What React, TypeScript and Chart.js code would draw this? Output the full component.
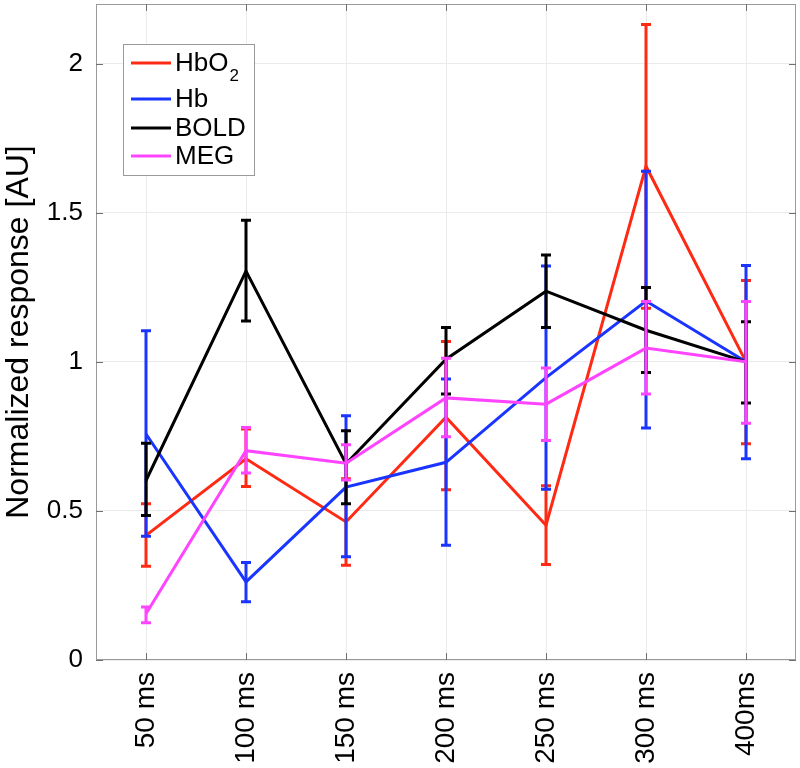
import React, { useEffect, useRef } from "react";
import { Chart, registerables } from "chart.js";

Chart.register(...registerables);

const categories = ["50 ms", "100 ms", "150 ms", "200 ms", "250 ms", "300 ms", "400ms"];
const yTicks = [0, 0.5, 1, 1.5, 2];

const hbo2Mean = [0.418, 0.675, 0.463, 0.814, 0.452, 1.656, 1.0];
const hbo2Low = [0.314, 0.582, 0.318, 0.571, 0.32, 1.18, 0.725];
const hbo2High = [0.524, 0.775, 0.608, 1.068, 0.584, 2.131, 1.273];

const hbMean = [0.758, 0.262, 0.58, 0.663, 0.947, 1.204, 1.0];
const hbLow = [0.415, 0.195, 0.346, 0.385, 0.573, 0.778, 0.675];
const hbHigh = [1.104, 0.327, 0.819, 0.942, 1.321, 1.639, 1.323];

const boldMean = [0.602, 1.304, 0.658, 1.009, 1.237, 1.106, 1.0];
const boldLow = [0.485, 1.137, 0.524, 0.892, 1.115, 0.964, 0.862];
const boldHigh = [0.727, 1.475, 0.769, 1.115, 1.358, 1.249, 1.134];

const megMean = [0.155, 0.702, 0.66, 0.879, 0.858, 1.046, 1.0];
const megLow = [0.125, 0.627, 0.604, 0.749, 0.736, 0.892, 0.794];
const megHigh = [0.178, 0.78, 0.722, 1.012, 0.979, 1.202, 1.202];

const seriesLabels = ["HbO₂", "Hb", "BOLD", "MEG"];
const seriesColors = ["#ff2a14", "#1a35ff", "#000000", "#ff44ff"];

const FONT = '"Liberation Sans", Arial, Helvetica, sans-serif';

const errorBarPlugin = {
  id: "errorBars",
  afterDatasetDraw(chart: any, args: any) {
    const ds: any = chart.data.datasets[args.index];
    if (!ds.errLow) return;
    const meta = chart.getDatasetMeta(args.index);
    const ys = chart.scales.y;
    const ctx = chart.ctx;
    ctx.save();
    ctx.strokeStyle = ds.borderColor;
    ctx.lineWidth = 3;
    ctx.lineCap = "butt";
    meta.data.forEach((pt: any, i: number) => {
      const x = pt.x;
      const yl = ys.getPixelForValue(ds.errLow[i]);
      const yh = ys.getPixelForValue(ds.errHigh[i]);
      ctx.beginPath();
      ctx.moveTo(x, yl);
      ctx.lineTo(x, yh);
      ctx.moveTo(x - 5, yl);
      ctx.lineTo(x + 5, yl);
      ctx.moveTo(x - 5, yh);
      ctx.lineTo(x + 5, yh);
      ctx.stroke();
    });
    ctx.restore();
  },
};

const frameAndLegendPlugin = {
  id: "frameLegend",
  afterDraw(chart: any) {
    const ctx = chart.ctx;
    const a = chart.chartArea;
    const xs = chart.scales.x;
    const ys = chart.scales.y;
    ctx.save();
    ctx.strokeStyle = "#9a9a9a";
    ctx.lineWidth = 1;
    ctx.strokeRect(a.left + 0.5, a.top + 0.5, a.right - a.left - 1, a.bottom - a.top - 1);
    ctx.strokeStyle = "#707070";
    ctx.beginPath();
    xs.ticks.forEach((_t: any, i: number) => {
      const x = Math.round(xs.getPixelForTick(i)) + 0.5;
      ctx.moveTo(x, a.bottom);
      ctx.lineTo(x, a.bottom - 7);
      ctx.moveTo(x, a.top);
      ctx.lineTo(x, a.top + 7);
    });
    ys.ticks.forEach((_t: any, i: number) => {
      const y = Math.round(ys.getPixelForTick(i)) + 0.5;
      ctx.moveTo(a.left, y);
      ctx.lineTo(a.left + 7, y);
      ctx.moveTo(a.right, y);
      ctx.lineTo(a.right - 7, y);
    });
    ctx.stroke();

    // legend
    const bx = a.left + 27;
    const by = a.top + 40;
    const bw = 131;
    const bh = 131;
    ctx.fillStyle = "#ffffff";
    ctx.fillRect(bx, by, bw, bh);
    ctx.strokeStyle = "#9a9a9a";
    ctx.lineWidth = 1;
    ctx.strokeRect(bx + 0.5, by + 0.5, bw, bh);
    const rows = [19, 55, 84, 112];
    ctx.textBaseline = "middle";
    ctx.textAlign = "left";
    chart.data.datasets.forEach((ds: any, i: number) => {
      const y = by + rows[i];
      ctx.strokeStyle = ds.borderColor;
      ctx.lineWidth = 3;
      ctx.beginPath();
      ctx.moveTo(bx + 8, y);
      ctx.lineTo(bx + 48, y);
      ctx.stroke();
      ctx.fillStyle = "#000";
      ctx.font = `26px ${FONT}`;
      const label: string = ds.label;
      if (label.endsWith("₂")) {
        const base = label.slice(0, -1);
        ctx.fillText(base, bx + 52, y + 1);
        const w = ctx.measureText(base).width;
        ctx.font = `17px ${FONT}`;
        ctx.fillText("2", bx + 52 + w + 1, y + 13);
      } else {
        ctx.fillText(label, bx + 52, y + 1);
      }
    });
    ctx.restore();
  },
};

export default function App() {
  const ref = useRef<HTMLCanvasElement | null>(null);
  useEffect(() => {
    if (!ref.current) return;
    const means = [hbo2Mean, hbMean, boldMean, megMean];
    const lows = [hbo2Low, hbLow, boldLow, megLow];
    const highs = [hbo2High, hbHigh, boldHigh, megHigh];
    const chart = new Chart(ref.current, {
      type: "line",
      data: {
        labels: categories,
        datasets: seriesLabels.map((label, i) => ({
          label,
          data: means[i],
          errLow: lows[i],
          errHigh: highs[i],
          borderColor: seriesColors[i],
          backgroundColor: seriesColors[i],
          borderWidth: 3,
          pointRadius: 0,
          tension: 0,
          fill: false,
          order: 4 - i,
        })) as any,
      },
      options: {
        animation: false,
        responsive: false,
        devicePixelRatio: 1,
        layout: { padding: { top: 4, right: 4, left: 0, bottom: 0 } },
        plugins: {
          legend: { display: false },
          tooltip: { enabled: false },
        },
        scales: {
          x: {
            type: "category",
            offset: true,
            grid: { color: "#ebebeb", lineWidth: 1, offset: false, drawTicks: false },
            border: { display: false },
            ticks: {
              maxRotation: 90,
              minRotation: 90,
              padding: 12,
              color: "#000",
              font: { family: FONT, size: 28 },
            },
            afterFit(scale: any) {
              scale.height = 108;
              scale.paddingLeft = 0;
              scale.paddingRight = 0;
              scale.paddingTop = 0;
              scale.paddingBottom = 0;
            },
          },
          y: {
            min: 0,
            max: 2.2,
            grid: { color: "#ebebeb", lineWidth: 1, drawTicks: false },
            border: { display: false },
            ticks: {
              stepSize: 0.5,
              includeBounds: false,
              padding: 13,
              color: "#000",
              font: { family: FONT, size: 26 },
              callback: (v: any) => (yTicks.includes(Number(v)) ? String(v) : ""),
            },
            title: {
              display: true,
              text: "Normalized response [AU]",
              color: "#000",
              font: { family: FONT, size: 32 },
              padding: { top: 0, bottom: 0 },
            },
            afterFit(scale: any) {
              scale.width = 96;
              scale.paddingLeft = 0;
              scale.paddingRight = 0;
              scale.paddingTop = 0;
              scale.paddingBottom = 0;
            },
          },
        },
      },
      plugins: [errorBarPlugin, frameAndLegendPlugin],
    } as any);
    return () => chart.destroy();
  }, []);
  return (
    <div style={{ position: "fixed", left: 0, top: 0, width: 800, height: 768, background: "#fff" }}>
      <canvas ref={ref} width={800} height={768} />
    </div>
  );
}
